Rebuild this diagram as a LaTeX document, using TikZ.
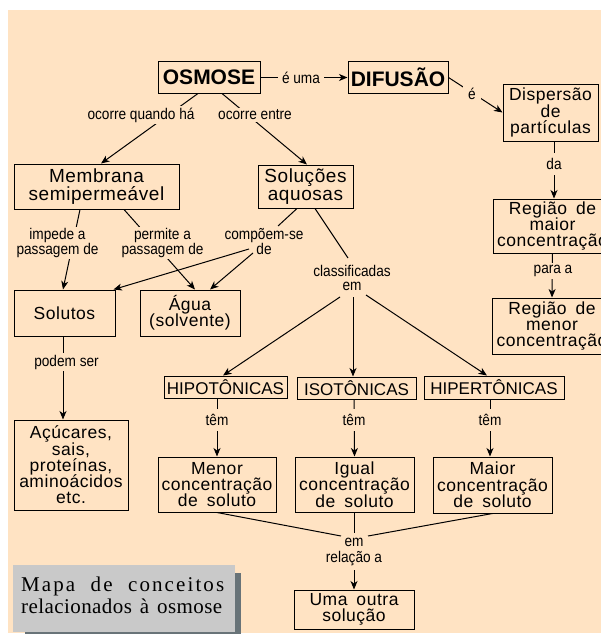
\documentclass[tikz,border=0pt]{standalone}
\usepackage{fontspec}
\setmainfont{Liberation Sans}
\newfontfamily\bxfont[LetterSpace=3]{Liberation Sans}
\newfontfamily\lblfont[FakeStretch=0.88]{Liberation Sans}
\newfontfamily\capfontA[LetterSpace=10]{Liberation Serif}
\newfontfamily\capfontB[LetterSpace=2]{Liberation Serif}
\usetikzlibrary{arrows.meta}
\definecolor{bgpeach}{HTML}{FFE3C3}
\definecolor{capgrey}{HTML}{C9C9C9}
\definecolor{capshadow}{HTML}{687378}
\newcommand\bxf{\bxfont\fontsize{17.5}{16.3}\selectfont\lineskiplimit=-20pt\spaceskip=9pt\relax}
\newcommand\bxfbig{\bxfont\fontsize{19}{17.5}\selectfont\lineskiplimit=-20pt\relax}
\newcommand\hdf{\fontsize{21}{21}\selectfont\bfseries}
\newcommand\upf{\fontsize{17}{17}\selectfont}
\newcommand\lbf{\lblfont\fontsize{15.5}{14.3}\selectfont\lineskiplimit=-20pt\relax}
\newcommand\lbfr{\lblfont\fontsize{15.5}{15.6}\selectfont\lineskiplimit=-20pt\relax}
\newcommand\capf{\fontsize{21}{22}\selectfont\lineskiplimit=-20pt\relax}
\tikzset{
 box/.style={draw=black, line width=1pt, inner sep=0pt, align=center, font=\bxf},
 sz/.style 2 args={minimum width=#1pt, minimum height=#2pt},
 ln/.style={line width=1pt, draw=black},
 arr/.style={ln, -{Stealth[length=8.5pt,width=7pt,inset=2.5pt]}},
 lbl/.style={fill=bgpeach, inner xsep=3pt, inner ysep=2pt, align=center, font=\lbf},
 lblt/.style={lbl, inner ysep=5.5pt},
 lbln/.style={inner sep=1pt, align=center, font=\lbf},
}
\begin{document}
\begin{tikzpicture}[x=1pt,y=-1pt]
\useasboundingbox (0,0) rectangle (601,634);
\fill[white] (0,0) rectangle (601,634);
\fill[bgpeach] (8,10) rectangle (601,633);
% boxes
\node[box, sz={102}{31}, font=\hdf] (osm) at (209,77.5) {OSMOSE};
\node[box, sz={100}{31}, font=\hdf] (dif) at (398,77.5) {DIFUSÃO};
\node[box, sz={95}{57}] (disp) at (550.5,112.5) {Dispersão\\de\\partículas};
\node[box, sz={119}{54}] (regmaior) at (552.5,226) {Região de\\maior\\concentração};
\node[box, sz={120}{56}] (regmenor) at (552,326) {Região de\\menor\\concentração};
\node[box, sz={165}{45}, font=\bxfbig] (mem) at (96.5,186.5) {Membrana\\semipermeável};
\node[box, sz={95}{43}, font=\bxfbig] (sol) at (305.5,186.5) {Soluções\\aquosas};
\node[box, sz={101}{46}] (solutos) at (64.5,313) {Solutos};
\node[box, sz={100}{46}] (agua) at (190,313) {Água\\(solvente)};
\node[box, sz={114}{90}] (acu) at (71,465) {Açúcares,\\sais,\\proteínas,\\aminoácidos\\etc.};
\node[box, sz={123}{22}, font=\upf] (hipo) at (225.5,387) {HIPOTÔNICAS};
\node[box, sz={119}{22}, font=\upf] (iso) at (356.5,388) {ISOTÔNICAS};
\node[box, sz={140}{23}, font=\upf] (hiper) at (494,387.5) {HIPERTÔNICAS};
\node[box, sz={118}{55}] (menor) at (217,484.5) {Menor\\concentração\\de soluto};
\node[box, sz={119}{55}] (igual) at (354.5,484.5) {Igual\\concentração\\de soluto};
\node[box, sz={119}{56}] (maior) at (492.5,485) {Maior\\concentração\\de soluto};
\node[box, sz={120}{39}] (uma) at (354,609.5) {Uma outra\\solução};
% unfilled labels with branching connectors
\node[lbln] (comp) at (264,241.5) {compõem-se\\de};
\node[lbln] (cls) at (352,278) {classificadas\\em};
\node[lbln, font=\lbfr] (rel) at (354,552) {em\\relação a};
\coordinate (c1) at (278,226);
\coordinate (c2) at (249,249);
\coordinate (c3) at (253,253);
\coordinate (k1) at (348,258);
\coordinate (k2) at (340,297);
\coordinate (k3) at (353,297);
\coordinate (k4) at (366,295);
\coordinate (r1) at (341,536);
\coordinate (r2) at (354.5,533);
\coordinate (r3) at (368,536);
\coordinate (r4) at (354,570);
% connectors
\draw[arr] (osm.east) -- (dif.west);
\draw[arr] (dif.east) -- (disp.west);
\draw[arr] ([xshift=-11pt]osm.south) -- ([xshift=4.5pt]mem.north);
\draw[arr] ([xshift=13pt]osm.south) -- ([xshift=1.5pt]sol.north);
\draw[arr] ([xshift=-16.5pt]mem.south) -- ([xshift=-1.5pt]solutos.north);
\draw[arr] ([xshift=27.5pt]mem.south) -- ([xshift=5pt]agua.north);
\draw[ln] ([xshift=-8.5pt]sol.south) -- (c1);
\draw[arr] (c2) -- ([xshift=-2pt]solutos.north east);
\draw[arr] (c3) -- ([xshift=20pt]agua.north);
\draw[ln] ([xshift=9.5pt]sol.south) -- (k1);
\draw[arr] (k2) -- ([xshift=-2.5pt]hipo.north);
\draw[arr] (k3) -- ([xshift=-3.5pt]iso.north);
\draw[arr] (k4) -- ([xshift=-7pt]hiper.north);
\draw[arr] ([xshift=-1.5pt]solutos.south) -- ([xshift=-8pt]acu.north);
\draw[arr] ([xshift=-8.5pt]hipo.south) -- (menor.north);
\draw[arr] ([xshift=-2.5pt]iso.south) -- (igual.north);
\draw[arr] ([xshift=-4pt]hiper.south) -- ([xshift=-2.5pt]maior.north);
\draw[arr] ([xshift=3.5pt]disp.south) -- ([xshift=1.5pt]regmaior.north);
\draw[arr] (regmaior.south) -- (regmenor.north);
\draw[ln] (menor.south) -- (r1);
\draw[ln] (igual.south) -- (r2);
\draw[ln] (maior.south) -- (r3);
\draw[arr] (r4) -- (uma.north);
% filled labels on connectors
\node[lbl, inner xsep=4pt] (euma) at (301,77.5) {é uma};
\node[lbl, inner xsep=5pt, inner ysep=4pt] (e) at (472,93.5) {é};
\node[lbl] (oqh) at (141,115) {ocorre quando há};
\node[lbl] (oe) at (255,115) {ocorre entre};
\node[lbl] (imp) at (57.5,243) {impede a\\passagem de};
\node[lbl] (perm) at (162.5,243) {permite a\\passagem de};
\node[lbl] (pod) at (66.5,362) {podem ser};
\node[lblt] (tem1) at (217,420) {têm};
\node[lblt] (tem2) at (354,420) {têm};
\node[lblt] (tem3) at (490,420) {têm};
\node[lblt] (da) at (554,164) {da};
\node[lbl] (para) at (553,271) {para a};
% caption
\fill[capshadow] (25,573) rectangle (241,633.5);
\fill[capgrey] (13,565) rectangle (235,632);
\node[anchor=north west, inner sep=0pt, align=left, font=\capf] (capt) at (21,576.7) {\makebox[203pt][s]{\capfontA Mapa de conceitos}\\\makebox[201pt][s]{\capfontB relacionados à osmose}};
\end{tikzpicture}
\end{document}
